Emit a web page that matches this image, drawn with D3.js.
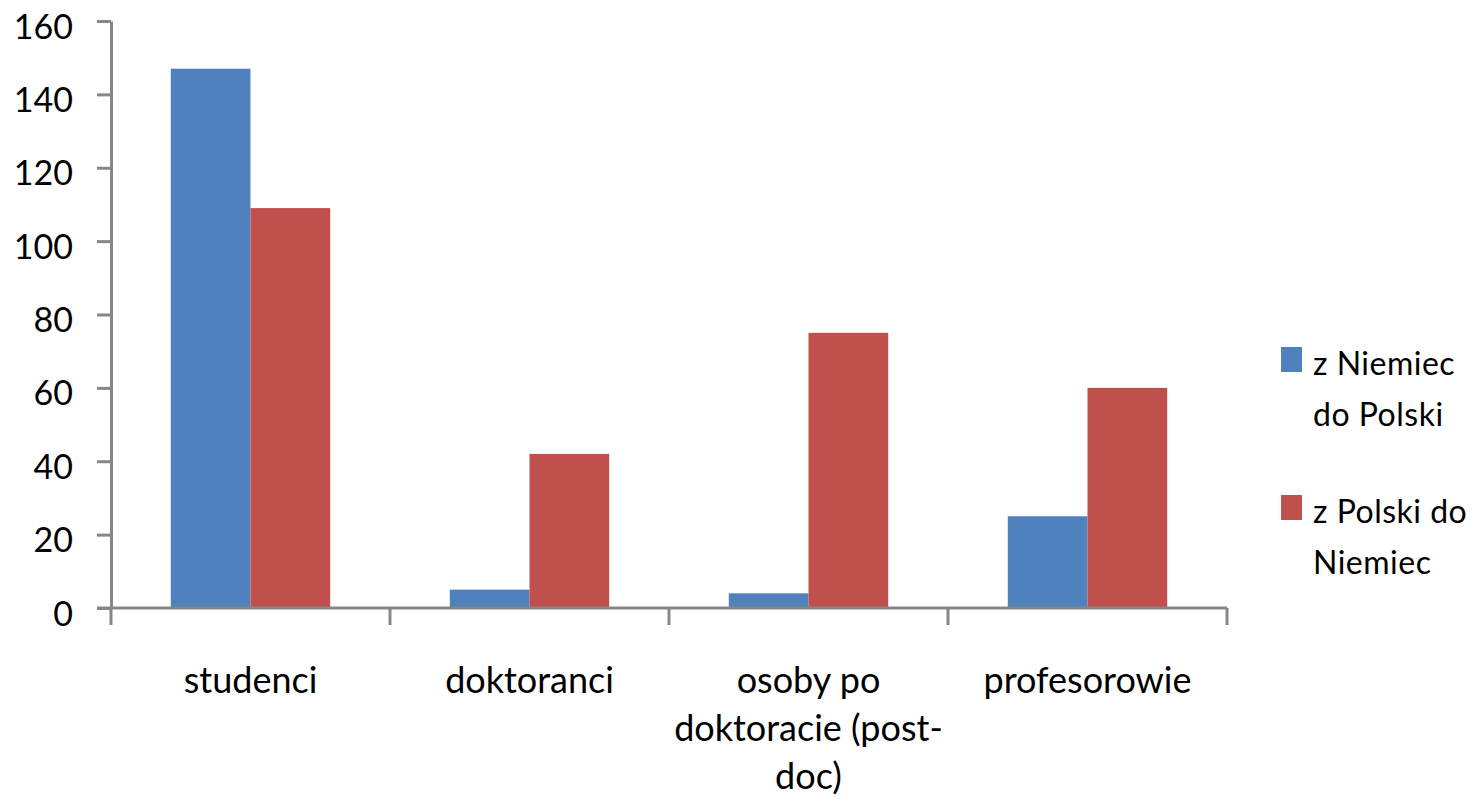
<!DOCTYPE html>
<html>
<head>
<meta charset="utf-8">
<script src="https://cdn.jsdelivr.net/npm/d3@7"></script>
<style>
  body { margin: 0; background: #fff; }
  svg text { font-family: Lato, "Open Sans", sans-serif; fill: #000; }
  .axis path, .axis line { stroke: #878787; stroke-width: 3; }
</style>
</head>
<body>
<svg id="chart"></svg>
<script>
// data
var categories = ["studenci", "doktoranci", "osoby po doktoracie (post-doc)", "profesorowie"];
var categoryLines = [["studenci"], ["doktoranci"], ["osoby po", "doktoracie (post-", "doc)"], ["profesorowie"]];
var series = ["z Niemiec do Polski", "z Polski do Niemiec"];
var seriesLines = [["z Niemiec", "do Polski"], ["z Polski do", "Niemiec"]];
var seriesColors = ["#4F81BD", "#C0504D"];
var fromGermany = [147, 5, 4, 25];
var fromPoland = [109, 42, 75, 60];
var yTicks = [0, 20, 40, 60, 80, 100, 120, 140, 160];

var values = [fromGermany, fromPoland];

var width = 1479, height = 803;
var plotLeft = 111, plotRight = 1227, plotTop = 21, plotBottom = 608;

var svg = d3.select("svg#chart")
    .attr("width", width)
    .attr("height", height);

var x0 = d3.scaleBand()
    .domain(categories)
    .range([plotLeft, plotRight])
    .padding(0);

// Excel style gap: 150% of a bar width
var gap = x0.bandwidth() * 1.5 / 3.5;
var x1 = d3.scaleBand()
    .domain(series)
    .range([gap / 2, x0.bandwidth() - gap / 2]);

var y = d3.scaleLinear()
    .domain([0, 160])
    .range([plotBottom, plotTop]);

// bars
var groups = svg.append("g").selectAll("g")
    .data(categories)
  .enter().append("g")
    .attr("transform", function(d) { return "translate(" + x0(d) + ",0)"; });

groups.selectAll("rect")
    .data(function(d, i) {
      return series.map(function(s, j) { return {s: s, j: j, v: values[j][i]}; });
    })
  .enter().append("rect")
    .attr("x", function(d) { return x1(d.s); })
    .attr("width", x1.bandwidth())
    .attr("y", function(d) { return y(d.v); })
    .attr("height", function(d) { return y(0) - y(d.v); })
    .attr("fill", function(d) { return seriesColors[d.j]; });

// y axis
var yAxis = d3.axisLeft(y)
    .tickValues(yTicks)
    .tickSize(14)
    .tickSizeOuter(0)
    .tickPadding(24);

var gy = svg.append("g")
    .attr("class", "axis")
    .attr("transform", "translate(" + plotLeft + ",0)")
    .call(yAxis);
gy.selectAll("text")
    .style("font-size", "34px")
    .attr("dy", "0.5em");

// x axis line and boundary ticks
var gx = svg.append("g")
    .attr("class", "axis")
    .attr("transform", "translate(0," + plotBottom + ")");

gx.append("path")
    .attr("d", "M" + (plotLeft - 14) + ",0H" + plotRight);

var bounds = categories.map(function(d) { return x0(d); }).concat([x0.range()[1]]);
gx.selectAll("line.tk")
    .data(bounds)
  .enter().append("line")
    .attr("class", "tk")
    .attr("x1", function(d) { return d; })
    .attr("x2", function(d) { return d; })
    .attr("y1", 0)
    .attr("y2", 17);

// category labels
var labels = svg.append("g").selectAll("text")
    .data(categories)
  .enter().append("text")
    .attr("text-anchor", "middle")
    .attr("x", function(d) { return x0(d) + x0.bandwidth() / 2; })
    .attr("y", 693)
    .style("font-size", "36px");

labels.selectAll("tspan")
    .data(function(d, i) { return categoryLines[i]; })
  .enter().append("tspan")
    .attr("x", function() { return d3.select(this.parentNode).attr("x"); })
    .attr("dy", function(d, i) { return i === 0 ? 0 : 48; })
    .text(function(d) { return d; });

// legend
var legend = svg.append("g").selectAll("g")
    .data(series)
  .enter().append("g")
    .attr("transform", function(d, i) { return "translate(1281," + (347 + i * 148) + ")"; });

legend.append("rect")
    .attr("width", 21)
    .attr("height", 25)
    .attr("fill", function(d, i) { return seriesColors[i]; });

var ltext = legend.append("text")
    .attr("x", 32)
    .attr("y", 28)
    .style("font-size", "32px")
    .style("letter-spacing", "0.5px");

ltext.selectAll("tspan")
    .data(function(d, i) { return seriesLines[i]; })
  .enter().append("tspan")
    .attr("x", 32)
    .attr("dy", function(d, i) { return i === 0 ? 0 : 51; })
    .text(function(d) { return d; });
</script>
</body>
</html>
